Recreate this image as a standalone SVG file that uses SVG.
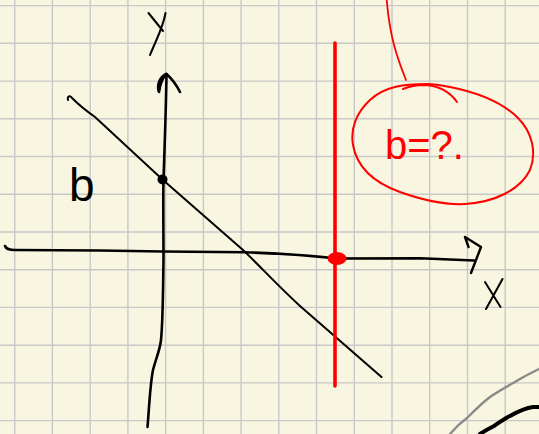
<svg xmlns="http://www.w3.org/2000/svg" width="539" height="434" viewBox="0 0 539 434">
<style>
.grid line{stroke:#c8c8c8;stroke-width:1.4}
.ink{fill:none;stroke:#000;stroke-linecap:round;stroke-linejoin:round}
.red{fill:none;stroke:#ff0000;stroke-linecap:round;stroke-linejoin:round}
.hand{font-family:"Liberation Sans",Arial,sans-serif}
</style>
<rect width="539" height="434" fill="#f8f6e1"/>
<g class="grid">
<line x1="14.7" y1="0" x2="14.7" y2="434"/><line x1="52.4" y1="0" x2="52.4" y2="434"/><line x1="90.2" y1="0" x2="90.2" y2="434"/><line x1="127.9" y1="0" x2="127.9" y2="434"/><line x1="165.6" y1="0" x2="165.6" y2="434"/><line x1="203.4" y1="0" x2="203.4" y2="434"/><line x1="241.1" y1="0" x2="241.1" y2="434"/><line x1="278.8" y1="0" x2="278.8" y2="434"/><line x1="316.5" y1="0" x2="316.5" y2="434"/><line x1="354.3" y1="0" x2="354.3" y2="434"/><line x1="392" y1="0" x2="392" y2="434"/><line x1="429.7" y1="0" x2="429.7" y2="434"/><line x1="467.5" y1="0" x2="467.5" y2="434"/><line x1="505.2" y1="0" x2="505.2" y2="434"/>
<line x1="0" y1="5.6" x2="539" y2="5.6"/><line x1="0" y1="43.3" x2="539" y2="43.3"/><line x1="0" y1="81.1" x2="539" y2="81.1"/><line x1="0" y1="118.8" x2="539" y2="118.8"/><line x1="0" y1="156.5" x2="539" y2="156.5"/><line x1="0" y1="194.3" x2="539" y2="194.3"/><line x1="0" y1="232" x2="539" y2="232"/><line x1="0" y1="269.7" x2="539" y2="269.7"/><line x1="0" y1="307.4" x2="539" y2="307.4"/><line x1="0" y1="345.2" x2="539" y2="345.2"/><line x1="0" y1="382.9" x2="539" y2="382.9"/><line x1="0" y1="420.6" x2="539" y2="420.6"/>
</g>
<g id="y-axis">
<path class="ink" stroke-width="2.6" d="M147.5,427 C149,410 150,385 153,370 C156,358 160,350 161,340 C163,320 163,290 163.5,260 C163.5,230 163,200 163.5,180 C164.5,150 166,110 166.5,74"/>
<path class="ink" stroke-width="2.6" d="M158.5,91 C157,84 160,77 166,74 C163,78 160,84 159,92 M166.5,74 C171,78 176,84 180,92"/>
<path class="ink" stroke-width="2" d="M148.5,13 L163,31 M165.5,13 C163,28 156,40 150,55"/>
</g>
<g id="x-axis">
<path class="ink" stroke-width="2.6" d="M5,246 C6,249 10,250 15,250 L100,250.5 L163,251.5 L245,252.3 C285,253.5 315,256 337,258.5 L420,258.3 L474,260.5"/>
<path class="ink" stroke-width="2.4" d="M465,237 L468.5,247 M465,237 L481,247 L471,273"/>
<path class="ink" stroke-width="2" d="M485,282 L500.5,307 M502.5,279 L486,309"/>
</g>
<g id="line">
<path class="ink" stroke-width="2" d="M68,100 C67,96 70,95 72,98 C78,104 85,110 95,117 L163,180 L243,250 C260,266 275,283 300,306 L381.5,377"/>
<circle cx="162.5" cy="179.5" r="5" fill="#000"/>
<text class="hand" x="69" y="201" font-size="46" fill="#000">b</text>
</g>
<g id="red-line">
<line class="red" x1="335" y1="43" x2="335" y2="386" stroke-width="3.6" stroke-linecap="butt"/>
<ellipse cx="337" cy="258.5" rx="9.5" ry="6.5" fill="#ff0000"/>
</g>
<g id="callout">
<path class="red" stroke-width="1.8" d="M386.7,0 C388,15 390,30 394,45 C398,60 402,70 406,80"/>
<path class="red" stroke-width="2" d="M427,84 C405,84 385,86 370,100 C357,112 350,128 353,145 C357,168 375,183 400,192 C425,201 445,205 465,204 C495,202 520,190 530,170 C537,152 532,132 518,118 C500,100 475,92 450,87 C440,85 432,84 427,84 Z"/>
<path class="red" stroke-width="2" d="M403,89 C410,86 418,85 425,85 C440,86 450,92 457,102"/>
<text class="hand" x="385" y="159" font-size="40" fill="#ff0000">b=?.</text>
</g>
<g id="corner">
<path fill="none" stroke="#8a8a8a" stroke-width="2.4" stroke-linecap="round" d="M450,434 C455,428 460,423 467,418 C475,410 482,403 490,397 C500,390 510,385 520,379 C527,375 533,372 539,369"/>
<path fill="none" stroke="#000" stroke-width="4" stroke-linecap="round" d="M480,434 C486,430 490,428 494,426 C500,422 505,418 510,416 C517,412 525,408 533,407 L539,407"/>
</g>
</svg>
